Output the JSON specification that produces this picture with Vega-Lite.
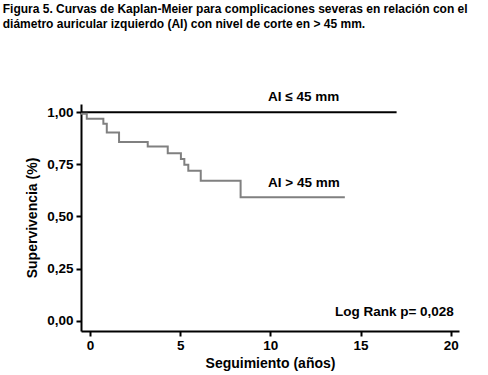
{
  "$schema": "https://vega.github.io/schema/vega-lite/v6.json",
  "width": 378,
  "height": 227,
  "autosize": {"type": "none"},
  "padding": {"left": 81, "top": 104, "right": 29, "bottom": 44},
  "background": "white",
  "config": {
    "view": {"stroke": null},
    "font": "Liberation Sans",
    "axis": {"grid": false, "domainColor": "black", "domainWidth": 2, "tickColor": "black", "tickWidth": 2, "tickSize": 5, "labelFont": "Liberation Sans", "labelFontWeight": "bold", "labelFontSize": 13.5, "labelColor": "black", "titleFont": "Liberation Sans", "titleFontWeight": "bold", "titleFontSize": 14, "titleColor": "black"}
  },
  "title": {
    "text": ["Figura 5. Curvas de Kaplan-Meier para complicaciones severas en relación con el", "diámetro auricular izquierdo (AI) con nivel de corte en > 45 mm."],
    "anchor": "start",
    "orient": "top",
    "font": "Liberation Sans",
    "fontSize": 12,
    "fontWeight": "bold",
    "color": "black",
    "lineHeight": 15,
    "baseline": "top",
    "dx": -23,
    "offset": 59
  },
  "datasets": {
    "curves": [
      {"grupo": "AI ≤ 45 mm", "t": -0.5, "s": 1.0},
      {"grupo": "AI ≤ 45 mm", "t": 17.0, "s": 1.0},
      {"grupo": "AI > 45 mm", "t": -0.5, "s": 0.993},
      {"grupo": "AI > 45 mm", "t": -0.18, "s": 0.969},
      {"grupo": "AI > 45 mm", "t": 0.74, "s": 0.945},
      {"grupo": "AI > 45 mm", "t": 0.93, "s": 0.903},
      {"grupo": "AI > 45 mm", "t": 1.61, "s": 0.857},
      {"grupo": "AI > 45 mm", "t": 3.2, "s": 0.836},
      {"grupo": "AI > 45 mm", "t": 4.31, "s": 0.804},
      {"grupo": "AI > 45 mm", "t": 5.04, "s": 0.776},
      {"grupo": "AI > 45 mm", "t": 5.23, "s": 0.748},
      {"grupo": "AI > 45 mm", "t": 5.45, "s": 0.719},
      {"grupo": "AI > 45 mm", "t": 6.14, "s": 0.671},
      {"grupo": "AI > 45 mm", "t": 8.35, "s": 0.592},
      {"grupo": "AI > 45 mm", "t": 14.13, "s": 0.592}
    ],
    "labels": [
      {"t": 9.87, "s": 1.075, "label": "AI ≤ 45 mm"},
      {"t": 9.87, "s": 0.661, "label": "AI > 45 mm"},
      {"t": 13.58, "s": 0.042, "label": "Log Rank p= 0,028"}
    ]
  },
  "layer": [
    {
      "data": {"name": "curves"},
      "mark": {"type": "line", "interpolate": "step-after", "strokeWidth": 2},
      "encoding": {
        "x": {"field": "t", "type": "quantitative", "scale": {"domain": [-0.5, 20.46], "nice": false, "zero": false}, "axis": {"values": [0, 5, 10, 15, 20], "title": "Seguimiento (años)", "titlePadding": 5, "labelPadding": 2}},
        "y": {"field": "s", "type": "quantitative", "scale": {"domain": [-0.05, 1.04], "nice": false, "zero": false}, "axis": {"values": [0, 0.25, 0.5, 0.75, 1], "labelExpr": "replace(format(datum.value, '.2f'), '.', ',')", "title": "Supervivencia (%)", "titlePadding": 7, "labelPadding": 3}},
        "color": {"field": "grupo", "type": "nominal", "scale": {"domain": ["AI ≤ 45 mm", "AI > 45 mm"], "range": ["black", "#808080"]}, "legend": null}
      }
    },
    {
      "data": {"name": "labels"},
      "mark": {"type": "text", "align": "left", "baseline": "middle", "font": "Liberation Sans", "fontWeight": "bold", "fontSize": 13.5, "color": "black"},
      "encoding": {
        "x": {"field": "t", "type": "quantitative"},
        "y": {"field": "s", "type": "quantitative"},
        "text": {"field": "label"}
      }
    }
  ]
}
